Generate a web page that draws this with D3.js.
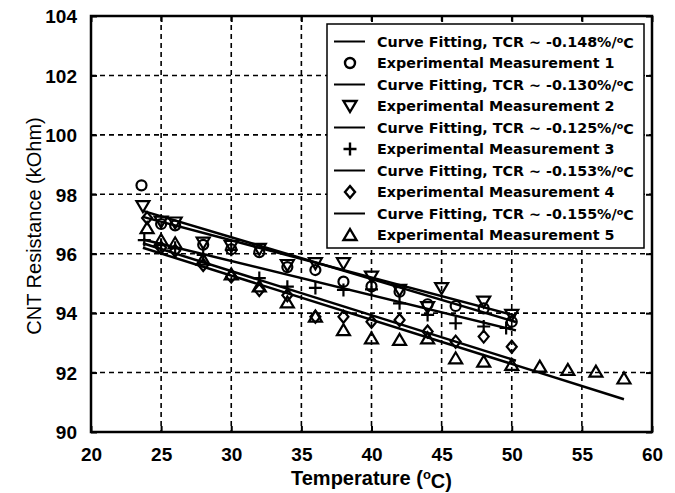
<!DOCTYPE html>
<html>
<head>
<meta charset="utf-8">
<title>CNT Resistance vs Temperature</title>
<script src="https://d3js.org/d3.v7.min.js"></script>
<style>
body { margin: 0; padding: 0; background: white; }
.tick text { font-family: "Liberation Sans", Arial, sans-serif; font-weight: bold; font-size: 19px; }
</style>
</head>
<body>
<svg id="chart" width="675" height="493"></svg>
<script>

// data
var xTicks = [20, 25, 30, 35, 40, 45, 50, 55, 60];
var yTicks = [90, 92, 94, 96, 98, 100, 102, 104];

var tcrLabels = ["-0.148", "-0.130", "-0.125", "-0.153", "-0.155"];
var markerTypes = ["circle", "triDown", "plus", "diamond", "triUp"];

var temp1 = [23.6, 25, 26, 28, 30, 32, 34, 36, 38, 40, 42, 44, 46, 48, 50];
var res1  = [98.3, 97.0, 96.95, 96.3, 96.15, 96.05, 95.55, 95.45, 95.06, 94.9, 94.72, 94.3, 94.24, 94.16, 93.71];

var temp2 = [23.7, 25, 26, 28, 30, 32, 34, 36, 38, 40, 42, 44, 45, 48, 50];
var res2  = [97.6, 97.08, 97.05, 96.37, 96.26, 96.16, 95.62, 95.68, 95.68, 95.23, 94.78, 94.2, 94.84, 94.39, 93.94];

var temp3 = [23.8, 25, 26, 28, 30, 32, 34, 36, 38, 40, 42, 44, 46, 48, 49.6];
var res3  = [96.46, 96.3, 96.2, 95.96, 96.13, 95.18, 94.89, 94.85, 94.78, 94.8, 94.33, 93.94, 93.66, 93.55, 93.5];

var temp4 = [24, 25, 26, 28, 30, 32, 34, 36, 38, 40, 42, 44, 46, 48, 50];
var res4  = [97.2, 96.2, 96.1, 95.62, 95.23, 94.78, 94.6, 93.88, 93.88, 93.71, 93.77, 93.38, 93.04, 93.21, 92.87];

var temp5 = [24, 25, 26, 28, 30, 32, 34, 36, 38, 40, 42, 44, 46, 48, 50, 52, 54, 56, 58];
var res5  = [96.86, 96.46, 96.35, 95.8, 95.3, 94.9, 94.36, 93.88, 93.43, 93.15, 93.1, 93.15, 92.48, 92.37, 92.26, 92.2, 92.09, 92.03, 91.8];

// curve fitting end points (temperature, resistance)
var fitTemps = [[23.7, 50.3], [23.7, 50.3], [23.7, 50.3], [23.7, 50.3], [23.7, 58]];
var fitRes   = [[97.44, 93.7], [97.24, 93.91], [96.48, 93.42], [96.35, 92.4], [96.2, 91.1]];

var temps = [temp1, temp2, temp3, temp4, temp5];
var ress = [res1, res2, res3, res4, res5];

// set up
var margin = {top: 16, right: 23, bottom: 61, left: 91},
    width = 675 - margin.left - margin.right,
    height = 493 - margin.top - margin.bottom;

var svg = d3.select("#chart")
  .append("g")
  .attr("transform", "translate(" + margin.left + "," + margin.top + ")");

var x = d3.scaleLinear().domain([20, 60]).range([0, width]);
var y = d3.scaleLinear().domain([90, 104]).range([height, 0]);

// grid
svg.append("g").selectAll("line")
  .data(xTicks.slice(1, -1))
  .enter().append("line")
  .attr("x1", function(d) { return x(d); })
  .attr("x2", function(d) { return x(d); })
  .attr("y1", 0).attr("y2", height)
  .attr("stroke", "black").attr("stroke-width", 1.6)
  .attr("stroke-dasharray", "5,4");

svg.append("g").selectAll("line")
  .data(yTicks.slice(1, -1))
  .enter().append("line")
  .attr("y1", function(d) { return y(d); })
  .attr("y2", function(d) { return y(d); })
  .attr("x1", 0).attr("x2", width)
  .attr("stroke", "black").attr("stroke-width", 1.6)
  .attr("stroke-dasharray", "5,4");

// axes, ticks inside
var gx = svg.append("g")
  .attr("transform", "translate(0," + height + ")")
  .call(d3.axisBottom(x).tickValues(xTicks).tickSizeInner(-6).tickSizeOuter(0).tickPadding(16));
var gy = svg.append("g")
  .call(d3.axisLeft(y).tickValues(yTicks).tickSizeInner(-6).tickSizeOuter(0).tickPadding(14));
var gx2 = svg.append("g")
  .call(d3.axisTop(x).tickValues(xTicks).tickSizeInner(-6).tickSizeOuter(0).tickFormat(""));
var gy2 = svg.append("g")
  .attr("transform", "translate(" + width + ",0)")
  .call(d3.axisRight(y).tickValues(yTicks).tickSizeInner(-6).tickSizeOuter(0).tickFormat(""));

[gx, gy, gx2, gy2].forEach(function(g) {
  g.select(".domain").remove();
  g.selectAll(".tick line").attr("stroke", "black").attr("stroke-width", 2);
  g.selectAll(".tick text").attr("fill", "black");
});
gy.selectAll(".tick text").attr("dy", "0.36em");

// box
svg.append("rect")
  .attr("x", 0).attr("y", 0)
  .attr("width", width).attr("height", height)
  .attr("fill", "none").attr("stroke", "black").attr("stroke-width", 2.5);

// marker shapes
function markerPath(type, cx, cy) {
  var p = d3.path();
  if (type == "circle") {
    p.moveTo(cx + 5, cy);
    p.arc(cx, cy, 5, 0, 2 * Math.PI);
  } else if (type == "triDown") {
    p.moveTo(cx - 6.5, cy - 5); p.lineTo(cx + 6.5, cy - 5); p.lineTo(cx, cy + 6); p.closePath();
  } else if (type == "triUp") {
    p.moveTo(cx - 6.5, cy + 5); p.lineTo(cx + 6.5, cy + 5); p.lineTo(cx, cy - 6); p.closePath();
  } else if (type == "diamond") {
    p.moveTo(cx, cy - 6); p.lineTo(cx + 5, cy); p.lineTo(cx, cy + 6); p.lineTo(cx - 5, cy); p.closePath();
  } else if (type == "plus") {
    p.moveTo(cx - 6.5, cy); p.lineTo(cx + 6.5, cy);
    p.moveTo(cx, cy - 6.5); p.lineTo(cx, cy + 6.5);
  }
  return p.toString();
}

var line = d3.line()
  .x(function(d) { return x(d[0]); })
  .y(function(d) { return y(d[1]); });

// series: fit line then markers
temps.forEach(function(tt, i) {
  var fit = [[fitTemps[i][0], fitRes[i][0]], [fitTemps[i][1], fitRes[i][1]]];
  svg.append("path")
    .datum(fit)
    .attr("d", line)
    .attr("fill", "none")
    .attr("stroke", "black")
    .attr("stroke-width", 2.5);

  svg.append("g").selectAll("path")
    .data(tt.map(function(t, j) { return [t, ress[i][j]]; }))
    .enter().append("path")
    .attr("d", function(d) { return markerPath(markerTypes[i], x(d[0]), y(d[1])); })
    .attr("fill", "none")
    .attr("stroke", "black")
    .attr("stroke-width", 2.2);
});

// legend
var lg = svg.append("g").attr("transform", "translate(" + (327 - margin.left) + "," + (24 - margin.top) + ")");
lg.append("rect")
  .attr("width", 317).attr("height", 224)
  .attr("fill", "white").attr("stroke", "black").attr("stroke-width", 1.5);

var rowStep = 21.5, row0 = 17.5;
tcrLabels.forEach(function(tcr, i) {
  var yl = row0 + 2 * i * rowStep, ym = yl + rowStep;
  lg.append("line")
    .attr("x1", 7).attr("x2", 38)
    .attr("y1", yl).attr("y2", yl)
    .attr("stroke", "black").attr("stroke-width", 2);
  var t1 = lg.append("text")
    .attr("x", 50).attr("y", yl + 5)
    .style("font-family", "DejaVu Sans").style("font-weight", "bold").style("font-size", "14.3px");
  t1.append("tspan").text("Curve Fitting, TCR ~ " + tcr + "%/");
  t1.append("tspan").attr("dy", "-0.4em").style("font-size", "9.5px").text("o");
  t1.append("tspan").attr("dy", "0.4em").text("C");

  lg.append("path")
    .attr("d", markerPath(markerTypes[i], 23, ym))
    .attr("fill", "none").attr("stroke", "black").attr("stroke-width", 2.4);
  lg.append("text")
    .attr("x", 50).attr("y", ym + 5)
    .style("font-family", "DejaVu Sans").style("font-weight", "bold").style("font-size", "14.3px")
    .text("Experimental Measurement " + (i + 1));
});

// axis labels
var xl = svg.append("text")
  .attr("x", width / 2).attr("y", height + 53)
  .attr("text-anchor", "middle")
  .style("font-family", "Liberation Sans, Arial").style("font-weight", "bold").style("font-size", "20px");
xl.append("tspan").text("Temperature (");
xl.append("tspan").attr("dy", "-0.45em").style("font-size", "13px").text("o");
xl.append("tspan").attr("dy", "0.45em").text("C)");

svg.append("text")
  .attr("transform", "translate(" + (41 - margin.left) + "," + (226 - margin.top) + ") rotate(-90)")
  .attr("text-anchor", "middle")
  .style("font-family", "Liberation Sans, Arial").style("font-size", "20px")
  .text("CNT Resistance (kOhm)");

</script>
</body>
</html>
